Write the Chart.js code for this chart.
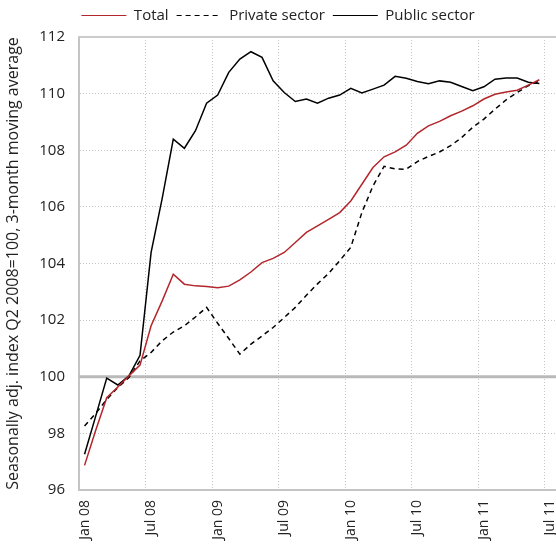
<!DOCTYPE html>
<html>
<head>
<meta charset="utf-8">
<script src="https://cdn.jsdelivr.net/npm/chart.js@4.4.1/dist/chart.umd.min.js"></script>
<style>
  html, body { margin: 0; padding: 0; background: #fff; }
  #wrap { width: 556px; height: 545px; }
</style>
</head>
<body>
<div id="wrap"><canvas id="chart" width="556" height="545"></canvas></div>
<script>
// monthly categories, Jan 08 - Jul 11 (last month has no data)
const months = [
  'Jan 08', 'Feb 08', 'Mar 08', 'Apr 08', 'May 08', 'Jun 08', 'Jul 08', 'Aug 08', 'Sep 08', 'Oct 08', 'Nov 08', 'Dec 08',
  'Jan 09', 'Feb 09', 'Mar 09', 'Apr 09', 'May 09', 'Jun 09', 'Jul 09', 'Aug 09', 'Sep 09', 'Oct 09', 'Nov 09', 'Dec 09',
  'Jan 10', 'Feb 10', 'Mar 10', 'Apr 10', 'May 10', 'Jun 10', 'Jul 10', 'Aug 10', 'Sep 10', 'Oct 10', 'Nov 10', 'Dec 10',
  'Jan 11', 'Feb 11', 'Mar 11', 'Apr 11', 'May 11', 'Jun 11', 'Jul 11'
];

const total = [
  96.87, 98.10, 99.26, 99.64, 100.03, 100.41, 101.80, 102.68, 103.62, 103.27, 103.21, 103.19,
  103.14, 103.20, 103.42, 103.70, 104.03, 104.18, 104.39, 104.74, 105.10, 105.33, 105.56, 105.80,
  106.21, 106.80, 107.39, 107.77, 107.94, 108.18, 108.60, 108.86, 109.02, 109.22, 109.38, 109.57,
  109.81, 109.98, 110.06, 110.12, 110.30, 110.49
];

const privateSector = [
  98.26, 98.70, 99.20, 99.62, 99.97, 100.56, 100.86, 101.27, 101.58, 101.80, 102.11, 102.45,
  101.89, 101.35, 100.80, 101.15, 101.44, 101.74, 102.09, 102.45, 102.88, 103.28, 103.65, 104.10,
  104.57, 105.80, 106.74, 107.43, 107.34, 107.33, 107.60, 107.78, 107.94, 108.16, 108.45, 108.81,
  109.10, 109.45, 109.78, 110.04, 110.28, 110.45
];

const publicSector = [
  97.26, 98.60, 99.95, 99.71, 100.03, 100.76, 104.39, 106.30, 108.39, 108.07, 108.69, 109.66,
  109.95, 110.75, 111.22, 111.48, 111.28, 110.45, 110.04, 109.72, 109.81, 109.66, 109.84, 109.95,
  110.19, 110.02, 110.16, 110.30, 110.61, 110.54, 110.43, 110.35, 110.45, 110.40, 110.25, 110.10,
  110.24, 110.51, 110.55, 110.55, 110.40, 110.36
];

const yTicks = { min: 96, max: 112, step: 2 };
const tickEvery = 6;

const FONT = 'Open Sans';
const GRID = '#c6c6c6';

// fixed legend height, solid 100 line and top frame
const frame = {
  id: 'frame',
  beforeInit(chart) {
    const legend = chart.legend;
    const fit = legend.fit;
    legend.fit = function () { fit.call(this); this.height = 37; };
  },
  beforeDatasetsDraw(chart) {
    const { ctx, chartArea: a, scales: { y } } = chart;
    const py = y.getPixelForValue(100);
    ctx.save();
    ctx.strokeStyle = '#b9b9b9';
    ctx.lineWidth = 3;
    ctx.beginPath();
    ctx.moveTo(a.left, py);
    ctx.lineTo(a.right, py);
    ctx.stroke();
    ctx.strokeStyle = '#cccccc';
    ctx.lineWidth = 2;
    ctx.beginPath();
    ctx.moveTo(a.left, a.top);
    ctx.lineTo(a.right, a.top);
    ctx.stroke();
    ctx.restore();
  }
};

new Chart(document.getElementById('chart'), {
  type: 'line',
  data: {
    labels: months,
    datasets: [
      {
        label: 'Total',
        data: total,
        borderColor: '#b3262b',
        backgroundColor: 'transparent',
        borderWidth: 1.5
      },
      {
        label: 'Private sector',
        data: privateSector,
        borderColor: '#000',
        backgroundColor: 'transparent',
        borderWidth: 1.5,
        borderDash: [5, 4]
      },
      {
        label: 'Public sector',
        data: publicSector,
        borderColor: '#000',
        backgroundColor: 'transparent',
        borderWidth: 1.5
      }
    ]
  },
  options: {
    responsive: false,
    animation: false,
    layout: { padding: 0 },
    elements: {
      point: { radius: 0 },
      line: { tension: 0 }
    },
    plugins: {
      tooltip: { enabled: false },
      legend: {
        labels: {
          usePointStyle: true,
          pointStyle: 'line',
          pointStyleWidth: 45,
          padding: 8,
          color: '#222',
          font: { family: FONT, size: 15 },
          // point style drops the dataset dash, put it back
          generateLabels: chart => {
            const items = Chart.defaults.plugins.legend.labels.generateLabels(chart);
            items.forEach(item => {
              const ds = chart.data.datasets[item.datasetIndex];
              item.lineDash = ds.borderDash || [];
              item.lineWidth = 1.2;
              item.strokeStyle = ds.borderColor;
            });
            return items;
          }
        }
      }
    },
    scales: {
      x: {
        offset: true,
        grid: {
          offset: true,
          drawTicks: false,
          color: ctx => (ctx.index % tickEvery === 0 && ctx.index < months.length) ? GRID : 'transparent',
          lineWidth: 1
        },
        border: { display: true, color: '#c4c4c4', width: 2, dash: [1, 2] },
        ticks: {
          autoSkip: false,
          minRotation: 90,
          maxRotation: 90,
          padding: 10,
          color: '#222',
          font: { family: FONT, size: 14 },
          callback: (v, i) => (i % tickEvery === 0 ? months[i] : '')
        },
        afterFit: s => { s.height = 55; s.paddingLeft = 0; s.paddingRight = 0; }
      },
      y: {
        min: yTicks.min,
        max: yTicks.max,
        grid: { drawTicks: false, color: GRID },
        border: { display: true, color: '#c4c4c4', width: 2, dash: [1, 2] },
        ticks: {
          stepSize: yTicks.step,
          padding: 14,
          color: '#222',
          font: { family: FONT, size: 15 }
        },
        title: {
          display: true,
          text: 'Seasonally adj. index Q2 2008=100, 3-month moving average',
          color: '#222',
          padding: { top: 4, bottom: 0 },
          font: { family: FONT, size: 16 }
        },
        afterFit: s => { s.width = 79; }
      }
    }
  },
  plugins: [frame]
});
</script>
</body>
</html>
